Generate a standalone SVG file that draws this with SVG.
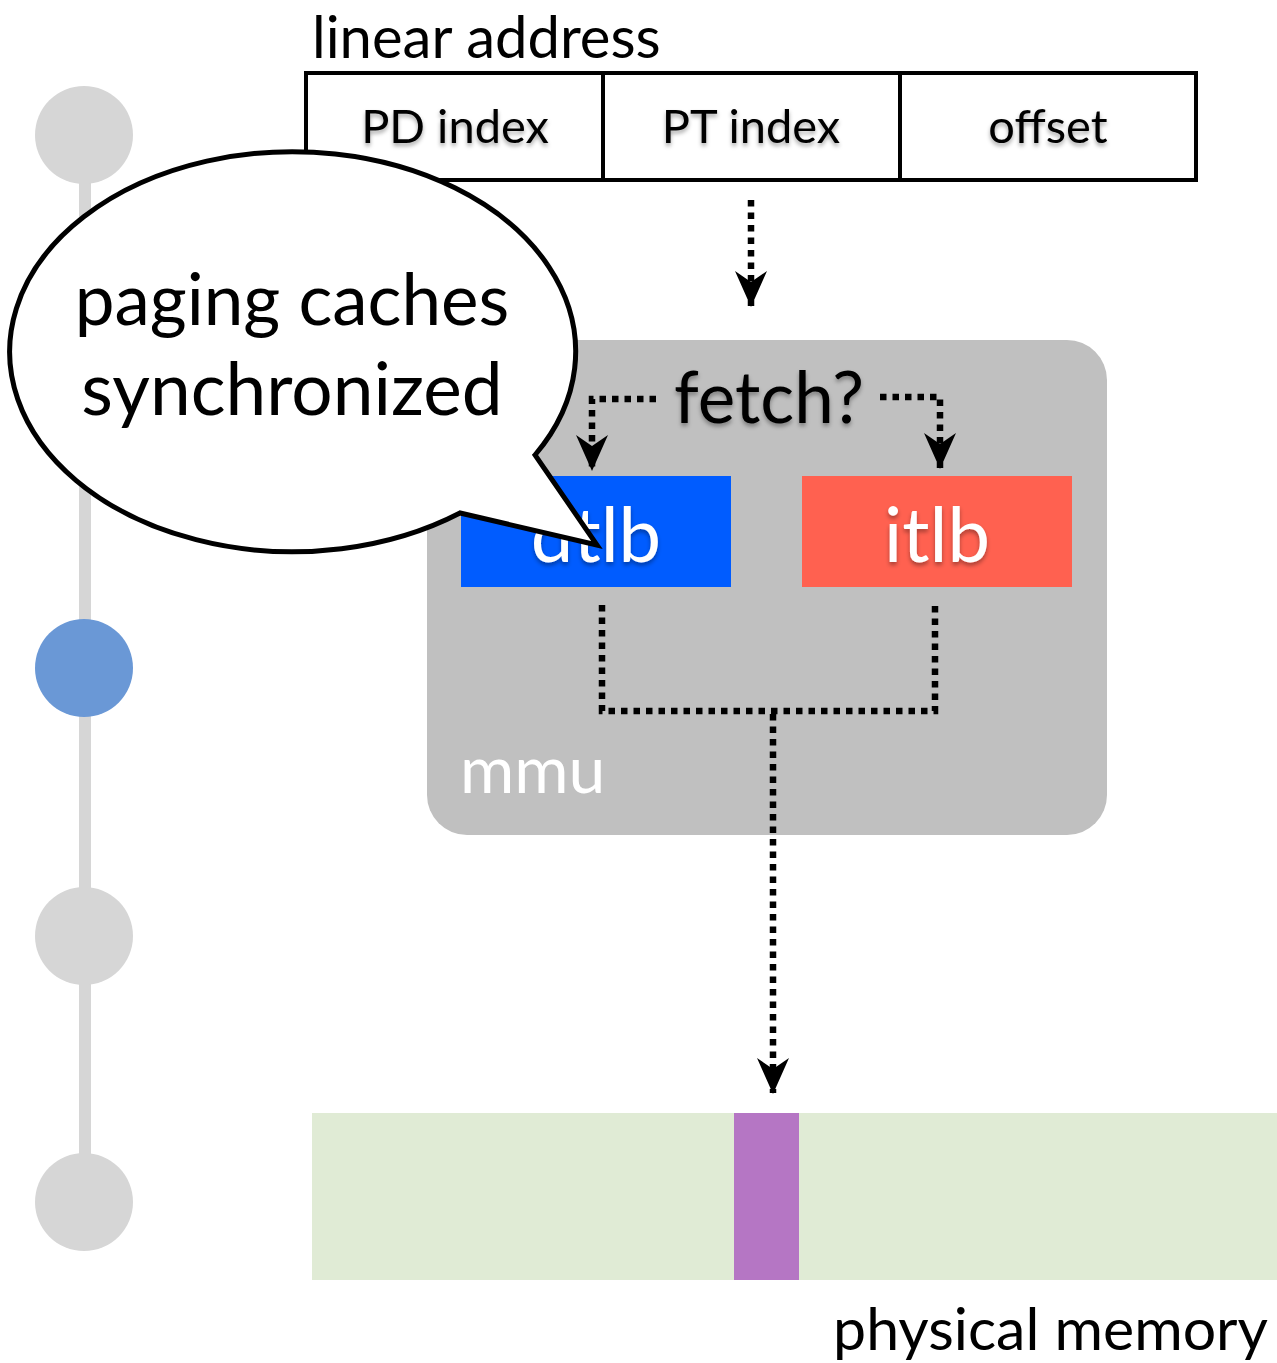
<svg xmlns="http://www.w3.org/2000/svg" width="1277" height="1363" viewBox="0 0 1277 1363">
<defs>
<style>
.t{font-family:"Lato","Open Sans","Liberation Sans",sans-serif;}
.dot{fill:none;stroke:#000;stroke-width:6.5;stroke-dasharray:6.5 6;}
.cell{fill:#fff;stroke:#000;stroke-width:4;}
</style>
<filter id="sh" x="-10%" y="-10%" width="120%" height="130%">
<feDropShadow dx="0" dy="3" stdDeviation="2" flood-color="#000" flood-opacity="0.35"/>
</filter>
<marker id="ah" viewBox="0 0 36 32" refX="35" refY="16" markerWidth="36" markerHeight="32" markerUnits="userSpaceOnUse" orient="auto">
<path d="M0,0 L11,16 L0,32 L36,16 Z" fill="#000"/>
</marker>
</defs>
<rect width="1277" height="1363" fill="#fff"/>
<g id="timeline">
<rect x="79" y="135" width="12" height="1067" fill="#d6d6d6"/>
<circle cx="84" cy="135" r="49" fill="#d6d6d6"/>
<circle cx="84" cy="668" r="49" fill="#6a98d6"/>
<circle cx="84" cy="936" r="49" fill="#d6d6d6"/>
<circle cx="84" cy="1202" r="49" fill="#d6d6d6"/>
</g>
<g id="linear-address">
<text class="t" x="312" y="58" font-size="58">linear address</text>
<rect class="cell" x="306" y="73" width="297" height="107"/>
<rect class="cell" x="603" y="73" width="297" height="107"/>
<rect class="cell" x="900" y="73" width="296" height="107"/>
<g filter="url(#sh)">
<text class="t" x="455" y="143" font-size="47" text-anchor="middle">PD index</text>
<text class="t" x="751" y="143" font-size="47" text-anchor="middle">PT index</text>
<text class="t" x="1048" y="143" font-size="47" text-anchor="middle">offset</text>
</g>
</g>
<g id="mmu">
<rect x="427" y="340" width="680" height="495" rx="40" fill="#c0c0c0"/>
<text class="t" x="460" y="793" font-size="66" fill="#fff">mmu</text>
<text class="t" x="769" y="423" font-size="71" text-anchor="middle" filter="url(#sh)">fetch?</text>
</g>
<g id="dtlb">
<rect x="461" y="476" width="270" height="111" fill="#005cff"/>
<text class="t" x="596" y="562" font-size="76" fill="#fff" text-anchor="middle" filter="url(#sh)">dtlb</text>
</g>
<g id="itlb">
<rect x="802" y="476" width="270" height="111" fill="#ff6150"/>
<text class="t" x="937" y="562" font-size="76" fill="#fff" text-anchor="middle" filter="url(#sh)">itlb</text>
</g>
<g id="physical-memory">
<rect x="312" y="1113" width="965" height="167" fill="#e0ebd5"/>
<rect x="734" y="1113" width="65" height="167" fill="#b576c4"/>
<text class="t" x="1268" y="1350" font-size="59" text-anchor="end">physical memory</text>
</g>
<g id="connectors">
<path class="dot" d="M751,200 V306" marker-end="url(#ah)"/>
<path class="dot" d="M656,399 H592 V470" marker-end="url(#ah)"/>
<path class="dot" d="M880,397 H940 V468" marker-end="url(#ah)"/>
<path class="dot" d="M602,605 V711 H935 V605"/>
<path class="dot" d="M773,714 V1093" marker-end="url(#ah)"/>
</g>
<g id="bubble">
<path d="M535,455 A283,200 0 1,0 460,513 L597,545 Z" fill="#fff" stroke="#000" stroke-width="5" stroke-linejoin="miter"/>
<text class="t" x="292" y="325" font-size="71" text-anchor="middle">paging caches</text>
<text class="t" x="292" y="415" font-size="73" text-anchor="middle">synchronized</text>
</g>
</svg>
